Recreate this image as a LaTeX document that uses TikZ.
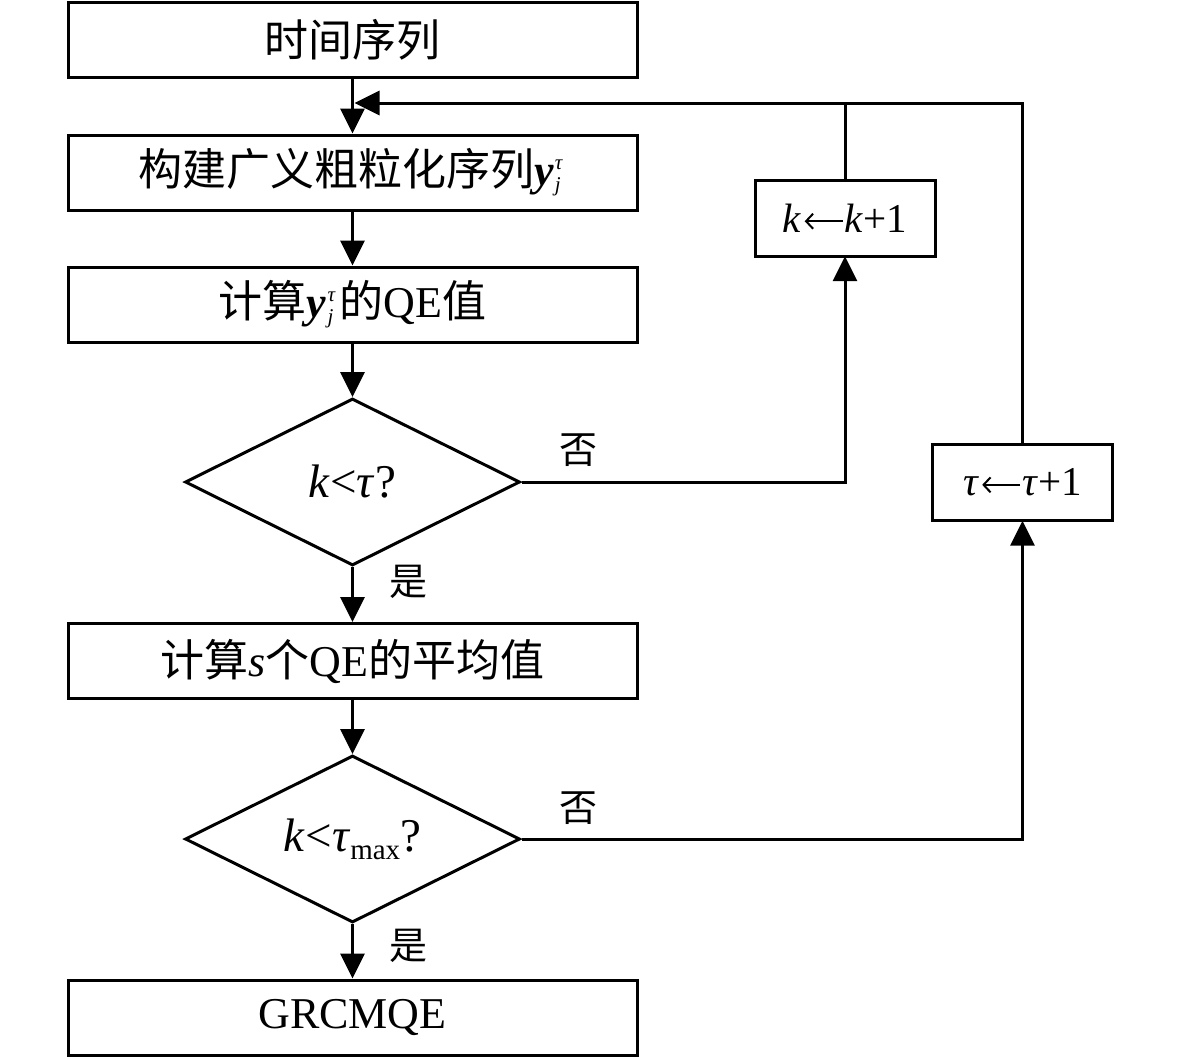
\documentclass[tikz,border=0pt]{standalone}
\usepackage{fontspec}
\setmainfont{Liberation Serif}
\newfontfamily\cjk{Noto Sans CJK SC}
\usetikzlibrary{shapes.geometric,arrows.meta}
\newcommand{\smallfs}{\fontsize{21}{21}\selectfont}
\newcommand{\yjt}{\textbf{\textit{y}}\kern1pt\makebox[0pt][l]{\raisebox{16pt}{\smallfs\textit{τ}}}\raisebox{-6pt}{\smallfs\textit{j}}\kern6pt}
\newcommand{\larr}{\kern2pt\tikz[baseline=-11pt]\draw[line width=2pt,-{Straight Barb[length=7pt,width=15pt]}] (38pt,0pt) -- (0pt,0pt);\kern1pt}
\begin{document}
\begin{tikzpicture}[x=1pt,y=-1pt,
  line width=3pt,
  box/.style={draw,minimum width=569pt,minimum height=75pt,inner sep=0pt,font=\fontsize{44}{48}\selectfont},
  sbox/.style={draw,minimum width=180pt,minimum height=76pt,inner sep=0pt,font=\fontsize{41}{44}\selectfont},
  dia/.style={draw,diamond,minimum width=335pt,minimum height=167pt,inner sep=0pt},
  dtxt/.style={inner sep=0pt,font=\fontsize{47}{50}\selectfont},
  arr/.style={-{Triangle[length=25pt,width=24pt]}},
  lbl/.style={font=\fontsize{38}{40}\selectfont\cjk,inner sep=0pt}]
\useasboundingbox (0,0) rectangle (1181,1058);
\node[box] (b1) at (352.5,39.5) {\cjk 时间序列};
\node[box] (b2) at (352.5,172.5) {{\cjk 构建广义粗粒化序列}\yjt};
\node[box] (b3) at (352.5,304.5) {{\cjk 计算}\yjt{\cjk 的}QE{\cjk 值}};
\node[dia] (d1) at (352.5,482) {};
\node[dtxt] (d1t) at (d1.center) {\textit{k}<\textit{τ}?};
\node[box] (b4) at (352.5,661) {{\cjk 计算}\textit{s}{\cjk 个}QE{\cjk 的平均值}};
\node[dia] (d2) at (352.5,839) {};
\node[dtxt] (d2t) at (d2.center) {\textit{k}<\textit{τ}\raisebox{-8pt}{\fontsize{29}{29}\selectfont max}?};
\node[box] (b5) at (352.5,1017.5) {GRCMQE};
\node[sbox] (kb) at (845,218) {\textit{k}\larr\textit{k}+1};
\node[sbox] (tb) at (1022.5,482.5) {\textit{τ}\larr\textit{τ}+1};
\coordinate (m) at (352.5,103);
\draw[arr] (b1.south) -- (b2.north);
\draw[arr] (b2.south) -- (b3.north);
\draw[arr] (b3.south) -- (d1.north);
\draw[arr] (d1.south) -- (b4.north);
\draw[arr] (b4.south) -- (d2.north);
\draw[arr] (d2.south) -- (b5.north);
\draw[arr] (d1.east) -| (kb.south);
\draw[arr] (d2.east) -| (tb.south);
\draw[arr,shorten >=2pt] (tb.north) |- (m);
\draw (kb.north) -- (kb.north |- m);
\node[lbl] (n1) at (578,450) {否};
\node[lbl] (n2) at (578,808) {否};
\node[lbl] (y1) at (408,582) {是};
\node[lbl] (y2) at (408,946) {是};
\end{tikzpicture}
\end{document}
